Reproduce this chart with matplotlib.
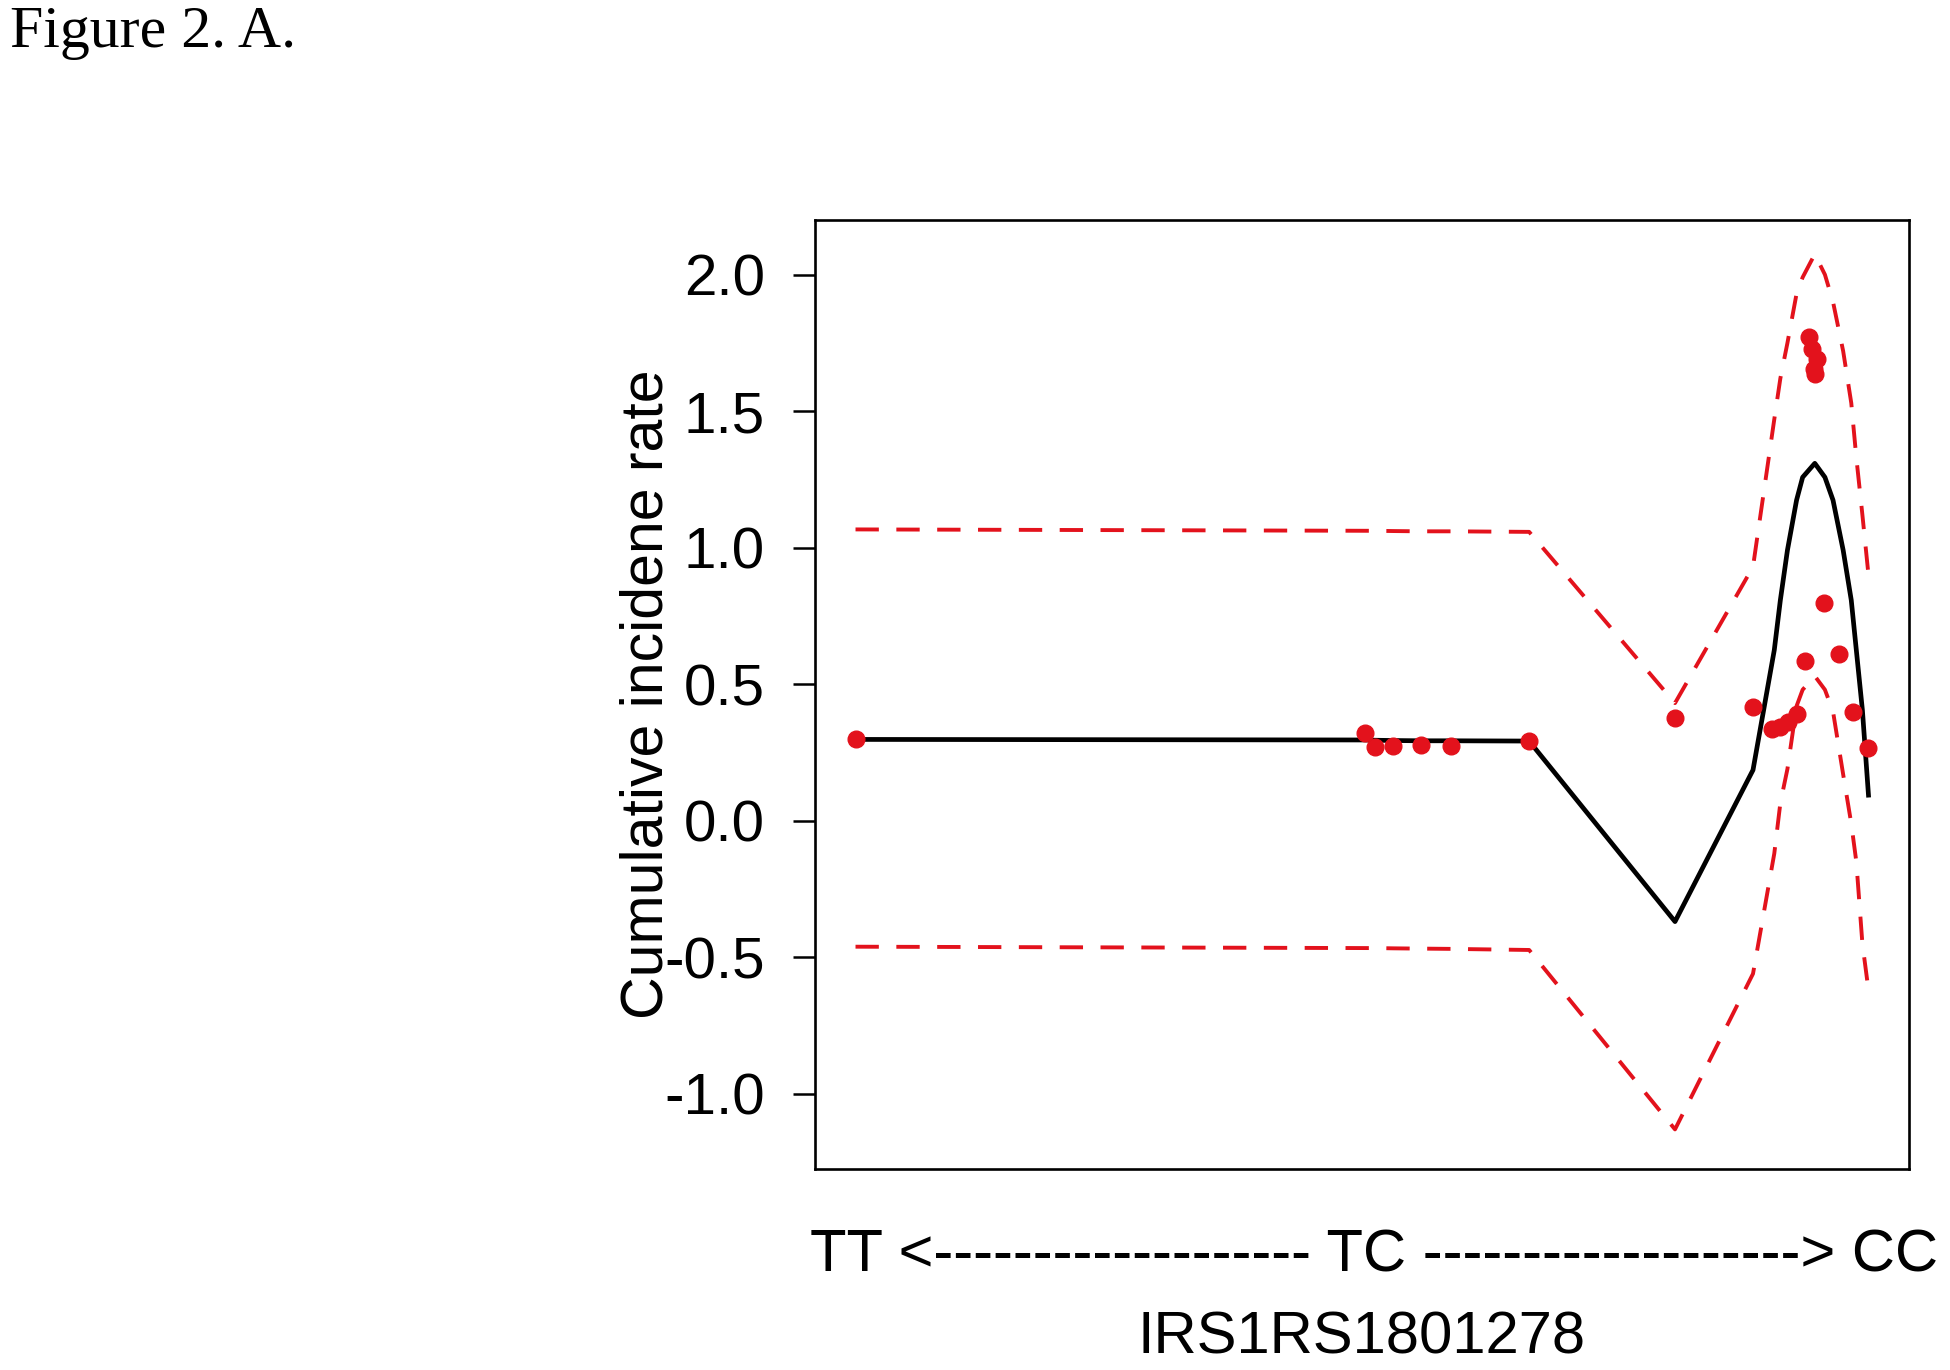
import numpy as np
import matplotlib
matplotlib.use('Agg')
import matplotlib.pyplot as plt

plt.rcParams['font.family'] = ['Liberation Sans', 'DejaVu Sans']
plt.rcParams['axes.unicode_minus'] = False

# observed points (x = position along TT -> TC -> CC axis, scaled 0..1)
obs_x = [0.0, 0.503, 0.513, 0.531, 0.558, 0.588, 0.665, 0.809, 0.886,
         0.905, 0.913, 0.921, 0.929, 0.937, 0.941, 0.944, 0.946, 0.947,
         0.949, 0.956, 0.971, 0.985, 1.0]
obs_y = [0.298, 0.321, 0.270, 0.273, 0.277, 0.273, 0.292, 0.378, 0.418,
         0.335, 0.345, 0.360, 0.390, 0.585, 1.772, 1.729, 1.655, 1.635,
         1.690, 0.796, 0.610, 0.400, 0.268]

# fitted curve and confidence band
fit_x = [0.0, 0.503, 0.513, 0.531, 0.558, 0.588, 0.665, 0.809, 0.886,
         0.907, 0.913, 0.920, 0.929, 0.935, 0.947, 0.957, 0.965, 0.975,
         0.983, 0.988, 0.994, 1.0]
fit_y = [0.298, 0.296, 0.295, 0.294, 0.293, 0.293, 0.292, -0.369, 0.186,
         0.625, 0.808, 0.991, 1.174, 1.258, 1.309, 1.258, 1.174, 0.991,
         0.808, 0.625, 0.405, 0.094]
upper = [1.067, 1.062, 1.062, 1.061, 1.060, 1.060, 1.058, 0.431, 0.930,
         1.470, 1.620, 1.750, 1.930, 1.990, 2.075, 2.000, 1.900, 1.720,
         1.530, 1.330, 1.120, 0.900]
lower = [-0.461, -0.466, -0.466, -0.467, -0.468, -0.469, -0.473, -1.130, -0.560,
         -0.120, 0.065, 0.190, 0.420, 0.480, 0.530, 0.480, 0.400, 0.170,
         -0.010, -0.150, -0.450, -0.620]

yticks = [-1.0, -0.5, 0.0, 0.5, 1.0, 1.5, 2.0]
red = '#e3121c'

fig = plt.figure(figsize=(19.5, 13.7), dpi=100)
ax = fig.add_axes([815/1950, 1-1169/1370, 1094/1950, 949/1370])

ax.plot(fit_x, fit_y, color='black', lw=3.4, solid_joinstyle='round')
ax.plot(fit_x, upper, color=red, lw=2.8, dashes=(6.0, 4.5))
ax.plot(fit_x, lower, color=red, lw=2.8, dashes=(6.0, 4.5))
ax.plot(obs_x, obs_y, 'o', color=red, ms=12, mec=red, ls='none')

ax.set_xlim(-0.04, 1.04)
ax.set_ylim(-1.275, 2.2)
ax.set_xticks([])
ax.set_yticks(yticks)
ax.set_yticklabels([f'{v:.1f}' for v in yticks])
ax.tick_params(axis='y', length=16, width=1.8, pad=20, labelsize=42)
for s in ax.spines.values():
    s.set_linewidth(1.9)

fig.text(647/1950, 1-694/1370, 'Cumulative incidene rate', rotation=90,
         ha='center', va='center', fontsize=42.5)
fig.text(1374/1950, 1-1256/1370,
         'TT <------------------- TC -------------------> CC',
         ha='center', va='center', fontsize=43)
fig.text(1362/1950, 1-1338/1370, 'IRS1RS1801278',
         ha='center', va='center', fontsize=43)
fig.text(10/1950, 1-6/1370, 'Figure 2. A.', ha='left', va='top',
         fontsize=43, family='Liberation Serif')

fig.savefig('out.png', dpi=100)
